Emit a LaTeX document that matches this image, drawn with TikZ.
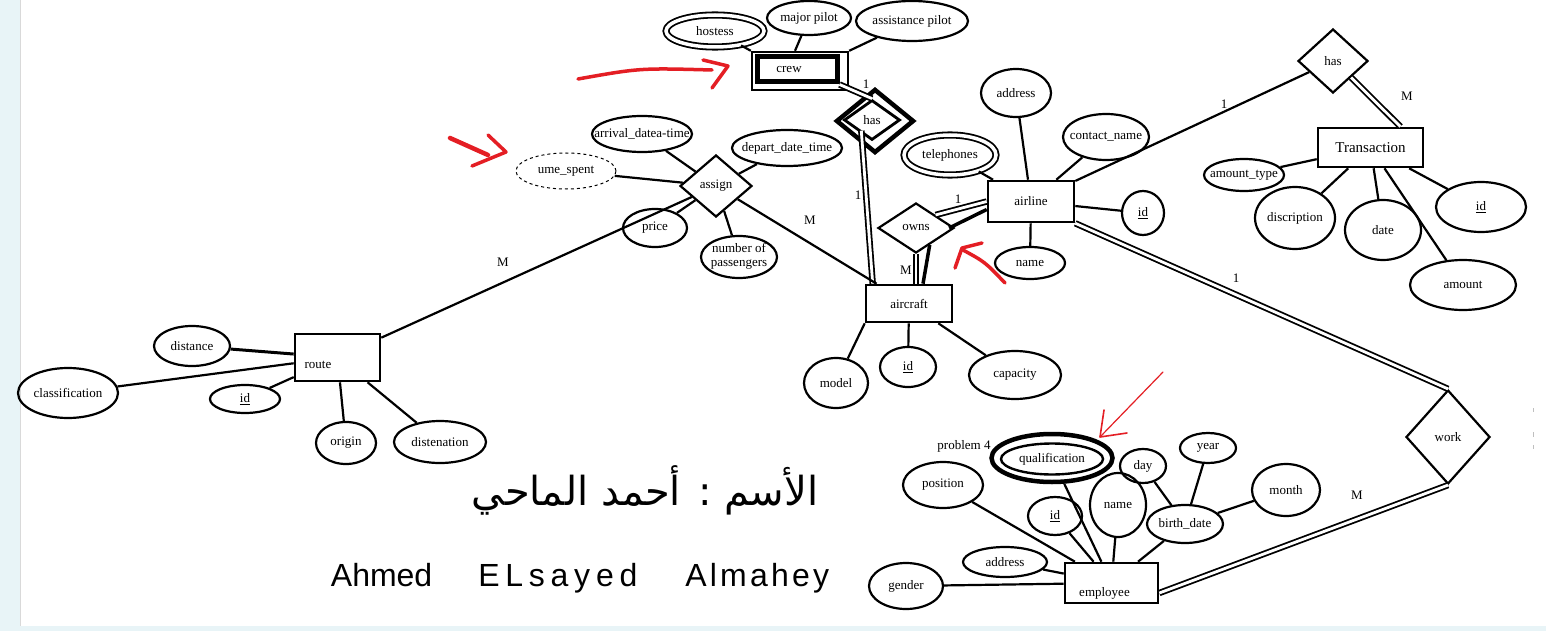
\documentclass[tikz,border=0pt]{standalone}
\usepackage{fontspec}
\setmainfont{Liberation Serif}
\newfontfamily\arabicfont[Script=Arabic]{DejaVu Sans}
\newfontfamily\handfont{Liberation Sans}
\TeXXeTstate=1
\usetikzlibrary{shapes.geometric, positioning, calc}
\definecolor{pen}{RGB}{228,30,36}
\definecolor{pagestrip}{RGB}{232,244,247}
\newcommand\erfont{\fontsize{13}{14}\selectfont}

\tikzset{
  ent/.style={draw, rectangle, line width=2.6pt, inner sep=0pt, font=\erfont},
  attbase/.style={draw, ellipse, line width=2.2pt, inner sep=0pt, font=\erfont},
  att/.style={attbase, execute at begin node={\hbox to 0pt\bgroup\hss}, execute at end node={\hss\egroup}},
  multi/.style={att, double, double distance=3.5pt, line width=1.8pt},
  rel/.style={draw, diamond, line width=2.2pt, inner sep=0pt, font=\erfont},
  sz/.style 2 args={minimum width=#1pt, minimum height=#2pt},
  link/.style={line width=2.2pt},
  dlink/.style={double, double distance=2.8pt, line width=1.8pt},
  card/.style={font=\erfont, inner sep=1pt},
  redpen/.style={pen, line width=3.5pt, line cap=round, line join=round}
}

\begin{document}
\begin{tikzpicture}[x=1pt, y=-1pt]
  \useasboundingbox (0,0) rectangle (1546,631);
  % Page
  \fill[pagestrip] (0,0) rectangle (1546,631);
  \fill[white] (21,0) rectangle (1546,626);
  \draw[gray!30] (20.5,0) -- (20.5,626);

  % crew
  \node[ent, sz={96}{38}, line width=2.4pt] (crew) at (800,71) {};
  \node[ent, sz={80}{25}, line width=5pt] (crewin) at (797,69.5) {crew\hspace*{16pt}};
  \node[multi, sz={98}{32}] (hostess) at (715,31) {hostess};
  \node[att, sz={84}{34}] (majorpilot) at (809,18) {major pilot};
  \node[att, sz={112}{40}] (asstpilot) at (912,21) {assistance pilot};
  \node[rel, sz={78}{64}, line width=4.5pt] (hascrew) at (875,121) {};
  \node[rel, sz={56}{40}, line width=2.8pt] (hascrewin) at (872,120) {has};

  % aircraft
  \node[ent, sz={86}{37}] (aircraft) at (909,303.5) {aircraft};
  \node[att, sz={64}{50}] (model) at (836,383) {model};
  \node[att, sz={56}{40}] (acid) at (908,367) {\underline{id}};
  \node[att, sz={92}{48}] (capacity) at (1015,375) {capacity};
  \node[rel, sz={76}{50}] (owns) at (916,228) {owns};

  % airline
  \node[ent, sz={86}{41}] (airline) at (1031,201.5) {airline};
  \node[multi, sz={92}{40}] (telephones) at (950,155) {telephones};
  \node[att, sz={70}{48}] (address) at (1016,93) {address};
  \node[att, sz={86}{46}] (contactname) at (1106,137) {contact\_name};
  \node[att, sz={42}{44}] (alid) at (1143,213) {\underline{id}};
  \node[att, sz={70}{32}] (alname) at (1030,263) {name};

  % transaction
  \node[rel, sz={70}{64}] (hastr) at (1333,61) {has};
  \node[ent, sz={105}{39}, font=\fontsize{15}{16}\selectfont] (transaction) at (1370.5,147.5) {Transaction};
  \node[att, sz={80}{32}] (amounttype) at (1244,175) {amount\_type};
  \node[att, sz={80}{62}] (discription) at (1295,218) {discription};
  \node[att, sz={76}{60}] (trdate) at (1383,230) {date};
  \node[att, sz={90}{50}] (trid) at (1481,207) {\underline{id}};
  \node[att, sz={106}{50}] (amount) at (1463,285) {amount};

  % assign
  \node[rel, sz={72}{62}] (assign) at (716,186) {assign};
  \node[att, sz={100}{36}] (arrival) at (642,134) {arrival\_datea-time};
  \node[att, sz={110}{36}] (depart) at (787,148) {depart\_date\_time};
  \node[att, sz={100}{36}, dashed, line width=1pt] (umespent) at (566,171) {ume\_spent};
  \node[att, sz={64}{38}] (price) at (655,228) {price};
  \node[att, sz={76}{42}] (passengers) at (739,257) {\begin{tabular}{@{}c@{}}number of\\passengers\end{tabular}};

  % route
  \node[ent, sz={85}{47}] (route) at (337.5,357.5) {\raisebox{-11pt}[0pt][0pt]{route}\hspace*{39pt}};
  \node[att, sz={76}{40}] (distance) at (192,346) {distance};
  \node[att, sz={100}{50}] (classification) at (68,393) {classification};
  \node[att, sz={70}{28}] (rtid) at (245,399) {\underline{id}};
  \node[att, sz={60}{42}] (origin) at (346,443) {origin};
  \node[att, sz={92}{42}] (distenation) at (440,442) {distenation};

  % employee
  \node[rel, sz={84}{94}] (work) at (1448,437) {work};
  \node[ent, sz={93}{40}] (employee) at (1111.5,583) {\raisebox{-13pt}[0pt][0pt]{employee}\hspace*{14pt}};
  \node[att, sz={74}{46}] (gender) at (906,586) {gender};
  \node[att, sz={84}{30}] (empaddress) at (1005,562) {address};
  \node[att, sz={80}{46}] (position) at (943,485) {position};
  \node[att, sz={54}{38}] (empid) at (1055,516) {\underline{id}};
  \node[att, sz={121}{48}, line width=4.5pt] (qualring) at (1052,458) {};
  \node[att, sz={102}{31}, line width=2.4pt] (qualification) at (1052,459) {qualification};
  \node[att, sz={56}{64}] (empname) at (1118,505) {name};
  \node[att, sz={46}{34}] (day) at (1143,466) {day};
  \node[att, sz={56}{30}] (year) at (1208,448) {year};
  \node[att, sz={76}{38}] (birthdate) at (1185,524) {birth\_date};
  \node[att, sz={68}{52}] (month) at (1286,490) {month};
  \node[font=\erfont] (problem) at (964,446) {problem 4};

  % Attribute links
  \draw[link] (hostess) -- (crew.north west);
  \draw[link] (majorpilot) -- ([xshift=-5pt]crew.north);
  \draw[link] (asstpilot) -- (crew.north east);
  \draw[link] (model) -- (aircraft.south west);
  \draw[link] (acid) -- (aircraft);
  \draw[link] (capacity) -- (aircraft);
  \draw[link] (telephones) -- (airline);
  \draw[link] (address) -- (airline);
  \draw[link] (contactname) -- (airline);
  \draw[link] (alid) -- (airline);
  \draw[link] (alname) -- (airline);
  \draw[link] (amounttype) -- (transaction);
  \draw[link] (discription) -- (transaction);
  \draw[link] (trdate) -- (transaction);
  \draw[link] (trid) -- (transaction);
  \draw[link] (amount) -- (transaction);
  \draw[link] (arrival) -- (assign);
  \draw[link] (depart) -- (assign);
  \draw[link] (umespent) -- (assign);
  \draw[link] (price) -- (assign);
  \draw[link] (passengers) -- (assign);
  \draw[link, line width=3pt] (distance) -- (route);
  \draw[link] (classification) -- (route);
  \draw[link] (rtid) -- (route);
  \draw[link] (origin) -- (route);
  \draw[link] (distenation) -- (route);
  \draw[link] (gender) -- (employee);
  \draw[link] (empaddress) -- (employee);
  \draw[link] (position) -- (employee);
  \draw[link] (empid) -- (employee);
  \draw[link] (qualring) -- (employee);
  \draw[link] (empname) -- (employee);
  \draw[link] (birthdate) -- (employee);
  \draw[link] (day) -- (birthdate);
  \draw[link] (year) -- (birthdate);
  \draw[link] (month) -- (birthdate);

  % Relationship links
  \draw[dlink] (crewin.south east) -- (hascrewin.north);
  \draw[dlink] ([xshift=4pt]hascrewin.south west) -- ([xshift=8pt]aircraft.north west);
  \draw[dlink] (owns.south) -- (owns.south |- aircraft.north);
  \draw[line width=3.5pt] ($(owns.south)!0.35!(owns.east)$) -- ([xshift=14pt]aircraft.north);
  \draw[dlink] (owns.north east) -- (airline.west);
  \draw[line width=3.5pt] ([xshift=-6pt]owns.east) -- ([yshift=-8pt]airline.west);
  \draw[link] (assign) -- (route);
  \draw[link] (assign) -- (aircraft);
  \draw[link] (airline) -- (hastr);
  \draw[dlink] (hastr.south east) -- ([xshift=30pt]transaction.north);
  \draw[dlink] (airline.south east) -- (work.north);
  \draw[dlink] (work.south) -- ([yshift=-10pt]employee.east);

  % Cardinalities
  \node[card] (c1) at (866,84) {1};
  \node[card] (c2) at (858,195) {1};
  \node[card] (c3) at (958,199) {1};
  \node[card] (c4) at (906,270) {M};
  \node[card] (c5) at (810,220) {M};
  \node[card] (c6) at (503,262) {M};
  \node[card] (c7) at (1224,104) {1};
  \node[card] (c8) at (1407,96) {M};
  \node[card] (c9) at (1236,278) {1};
  \node[card] (c10) at (1357,495) {M};

  % Red pen
  \draw[redpen] (578,79) .. controls (640,68) .. (712,70);
  \draw[redpen] (703,60) -- (728,66) -- (712,88);
  \draw[redpen, line width=4.5pt] (450,138) -- (488,155);
  \draw[redpen] (488,135) -- (506,152) -- (472,166);
  \draw[redpen] (1005,283) .. controls (985,262) .. (963,250);
  \draw[redpen] (955,268) -- (962,248) -- (982,243);
  \draw[pen, line width=1.2pt, line cap=round] (1163,372) -- (1100,437);
  \draw[pen, line width=1.6pt, line cap=round, line join=round] (1104,410) -- (1100,437) -- (1127,433);

  % Name
  \node[font=\arabicfont\fontsize{40}{46}\selectfont] (arname) at (645,490) {\beginR الأسم : أحمد الماحي\endR};
  \node[font=\handfont\fontsize{32}{38}\selectfont] (enname) at (580,578)
    {Ahmed\hspace{46pt}{\addfontfeature{LetterSpace=18}ELsayed}\hspace{48pt}{\addfontfeature{LetterSpace=10}Almahey}};

  % Margin marks
  \draw[gray!50] (1533,408) -- (1533,412);
  \draw[gray!50] (1533,432) -- (1533,437);
  \draw[gray!50] (1533,445) -- (1533,449);
\end{tikzpicture}
\end{document}
